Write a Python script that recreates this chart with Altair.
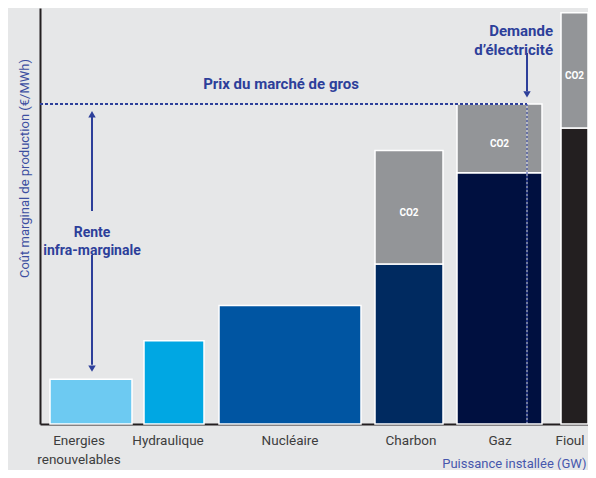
import altair as alt
import pandas as pd

# ---- data (x in GW, y in €/MWh) ----
categories = ["Energies renouvelables", "Hydraulique", "Nucléaire", "Charbon", "Gaz", "Fioul"]
cat_labels = ["Energies\nrenouvelables", "Hydraulique", "Nucléaire", "Charbon", "Gaz", "Fioul"]
x_start = [2.5, 26.0, 44.75, 83.75, 104.25, 130.25]
x_end = [23.0, 41.0, 80.25, 100.75, 125.5, 137.0]
fuel_cost = [14.0, 26.0, 37.0, 50.0, 78.5, 92.5]
co2_cost = [0.0, 0.0, 0.0, 35.5, 21.5, 36.0]
label_x = [9.75, 32.0, 62.5, 92.75, 115.0, 132.5]
fuel_colors = ["#6dcaf2", "#00a7e3", "#0055a2", "#002a60", "#001040", "#231f20"]
co2_color = "#939598"
price = 100.0
demand = 121.75

X_DOMAIN = [0, 137]
Y_DOMAIN = [0, 130]

BLUE = "#2d3f9a"
FONT = "Roboto"

# ---- tables ----
seg_rows = []
co2_rows = []
for i, c in enumerate(categories):
    seg_rows.append(dict(seg=c, x0=x_start[i], x1=x_end[i], y0=0.0, y1=fuel_cost[i]))
    if co2_cost[i] > 0:
        top = fuel_cost[i] + co2_cost[i]
        seg_rows.append(dict(seg="CO2 " + c, x0=x_start[i], x1=x_end[i], y0=fuel_cost[i], y1=top))
        co2_rows.append(dict(xm=(x_start[i] + x_end[i]) / 2, ym=(fuel_cost[i] + top) / 2, t="CO2"))
segs = pd.DataFrame(seg_rows)
co2 = pd.DataFrame(co2_rows)
labels = pd.DataFrame(dict(x=label_x, y=[-3.1] * len(cat_labels), t=cat_labels))

color_domain = categories + ["CO2 " + c for c in categories if co2_cost[categories.index(c)] > 0]
color_range = fuel_colors + [co2_color] * (len(color_domain) - len(categories))

xs = alt.Scale(domain=X_DOMAIN, nice=False, zero=False)
ys = alt.Scale(domain=Y_DOMAIN, nice=False, zero=False)

x_axis = alt.Axis(
    domain=True, domainColor="#231f20", domainWidth=2, ticks=False, labels=False, grid=False,
    title="Puissance installée (GW)", titleColor="#4757ad", titleFont=FONT, titleFontSize=13,
    titleFontWeight="normal", titleAnchor="end", titleAlign="right", titleX=546, titleY=39,
    titleBaseline="middle",
)
y_axis = alt.Axis(
    domain=True, domainColor="#231f20", domainWidth=2, ticks=False, labels=False, grid=False,
    title="Coût marginal de production (€/MWh)", titleColor="#3b4ea0", titleFont=FONT,
    titleFontSize=13, titleFontWeight="normal", titleAngle=270, titleX=-16, titleY=160,
    titleAlign="center", titleBaseline="middle",
)


def X(field):
    return alt.X(field, type="quantitative", scale=xs, axis=x_axis)


def Y(field):
    return alt.Y(field, type="quantitative", scale=ys, axis=y_axis)


bars = alt.Chart(segs).mark_rect(stroke="white", strokeWidth=1.5).encode(
    x=X("x0"), x2="x1", y=Y("y0"), y2="y1",
    color=alt.Color("seg:N", scale=alt.Scale(domain=color_domain, range=color_range), legend=None),
)

co2_text = alt.Chart(co2).mark_text(
    color="white", font=FONT, fontSize=10, fontWeight="bold", baseline="middle", dy=6
).encode(x=X("xm"), y=Y("ym"), text="t:N")

ref = pd.DataFrame(dict(x0=[0.0], xd=[demand], p=[price], z=[0.0]))

price_line = alt.Chart(ref).mark_rule(color=BLUE, strokeWidth=2, strokeDash=[3, 2]).encode(
    x=X("x0"), x2="xd", y=Y("p")
)
demand_white = alt.Chart(ref).mark_rule(color="#dfe3f5", strokeWidth=1, strokeDash=[2, 2]).encode(
    x=X("xd"), y=Y("z"), y2="p"
)
demand_blue = alt.Chart(ref).mark_rule(
    color="#3a4cb0", strokeWidth=1, strokeDash=[2, 2], strokeDashOffset=2
).encode(x=X("xd"), y=Y("z"), y2="p")

# arrows
arrow_lines = pd.DataFrame(dict(
    x=[demand, 13.0, 13.0],
    ya=[115.9, 66.6, 52.8],
    yb=[104.0, 96.0, 18.5],
))
arrow_line_chart = alt.Chart(arrow_lines).mark_rule(color=BLUE, strokeWidth=2).encode(
    x=X("x"), y=Y("ya"), y2="yb"
)
heads = pd.DataFrame(dict(
    x=[demand, 13.0, 13.0],
    y=[103.0, 96.8, 17.3],
    s=["triangle-down", "triangle-up", "triangle-down"],
))
head_chart = alt.Chart(heads).mark_point(filled=True, color=BLUE, opacity=1, size=55).encode(
    x=X("x"), y=Y("y"),
    shape=alt.Shape("s:N", scale=alt.Scale(domain=["triangle-up", "triangle-down"],
                                            range=["triangle-up", "triangle-down"]), legend=None),
)

notes = pd.DataFrame(dict(
    x=[60.25, 128.25, 13.0],
    y=[106.2, 122.9, 59.7],
    t=["Prix du marché de gros", "Demande\nd’électricité", "Rente\ninfra-marginale"],
    a=["center", "right", "center"],
    s=[15, 15, 14],
))
note_center = alt.Chart(notes[notes.a == "center"]).mark_text(
    color=BLUE, font=FONT, fontWeight="bold", align="center",
    baseline="middle", lineBreak="\n", lineHeight=18,
).encode(x=X("x"), y=Y("y"), text="t:N", size=alt.Size("s:Q", scale=None, legend=None))
note_right = alt.Chart(notes[notes.a == "right"]).mark_text(
    color=BLUE, font=FONT, fontWeight="bold", align="right",
    baseline="middle", lineBreak="\n", lineHeight=19,
).encode(x=X("x"), y=Y("y"), text="t:N", size=alt.Size("s:Q", scale=None, legend=None))

cat_text = alt.Chart(labels).mark_text(
    color="#3d3d3d", font=FONT, fontSize=13.5, align="center", baseline="top",
    lineBreak="\n", lineHeight=19,
).encode(x=X("x"), y=Y("y"), text="t:N")

chart = alt.layer(
    bars, co2_text, price_line, demand_white, demand_blue, arrow_line_chart, head_chart,
    note_center, note_right, cat_text,
).properties(
    width=548, height=416,
    background="#e6e7e8",
    autosize=alt.AutoSizeParams(type="none"),
    padding={"left": 32, "top": 0, "right": 0, "bottom": 46},
).configure_view(stroke=None)

chart.save("out.html", embed_options={"renderer": "svg", "actions": False})
